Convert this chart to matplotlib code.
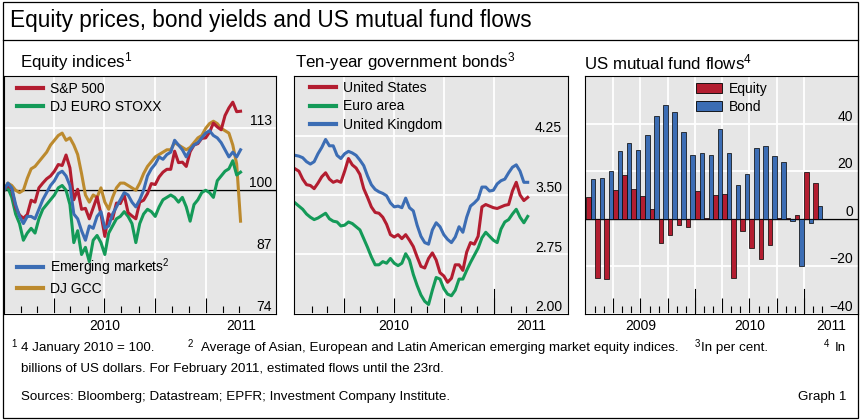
import numpy as np
import pandas as pd
import matplotlib
matplotlib.use('Agg')
import matplotlib.pyplot as plt
import matplotlib.dates as mdates
import matplotlib.transforms as mtransforms
from matplotlib.lines import Line2D
from matplotlib.patches import Patch, Rectangle
from matplotlib import font_manager

plt.rcParams['font.family'] = ['Liberation Sans', 'DejaVu Sans']
plt.rcParams['mathtext.fontset'] = 'custom'
plt.rcParams['mathtext.rm'] = 'Liberation Sans'
plt.rcParams['mathtext.it'] = 'Liberation Sans:italic'
plt.rcParams['mathtext.bf'] = 'Liberation Sans:bold'

have = {f.name for f in font_manager.fontManager.ttflist}
narrow = 'Liberation Sans Narrow' if 'Liberation Sans Narrow' in have else 'Liberation Sans'

# equity indices, weekly, 4 January 2010 = 100
eq_dates = pd.date_range('2010-01-01', periods=62, freq='7D')
sp500 = [100.0, 101.1, 100.3, 96.4, 94.8, 94.1, 94.9, 97.9, 97.5, 100.5,
         101.5, 102.4, 103.0, 104.0, 105.4, 105.2, 107.4, 104.7, 98.0, 100.2,
         96.0, 96.2, 94.0, 96.3, 98.6, 95.0, 90.3, 95.1, 94.0, 97.3,
         97.2, 99.0, 95.3, 94.6, 94.0, 97.5, 97.9, 99.3, 101.4, 101.2,
         102.8, 103.8, 104.4, 104.4, 108.2, 105.8, 105.9, 105.0, 108.1, 109.5,
         109.8, 110.9, 111.0, 112.2, 114.1, 113.3, 112.7, 115.7, 117.3, 118.5,
         116.5, 116.6]
euro_stoxx = [100.0, 100.5, 98.5, 95.0, 93.0, 89.5, 91.0, 92.0, 91.0, 94.0,
              96.0, 97.0, 98.0, 99.0, 100.5, 101.0, 100.0, 97.0, 89.0, 91.5,
              86.5, 88.0, 85.0, 89.5, 90.5, 89.0, 86.5, 91.0, 92.5, 94.0,
              94.5, 95.5, 94.5, 93.0, 89.0, 93.0, 95.0, 96.0, 95.5, 94.5,
              96.5, 98.0, 98.5, 99.0, 98.5, 97.5, 98.5, 96.5, 93.5, 97.0,
              98.0, 99.5, 100.0, 99.5, 98.5, 102.0, 103.0, 104.0, 104.5, 106.2,
              103.2, 103.8]
emerging = [100.0, 101.5, 100.5, 97.0, 94.5, 93.0, 94.5, 94.5, 94.0, 96.0,
            98.0, 99.5, 101.0, 102.0, 103.5, 104.0, 103.0, 101.0, 95.0, 94.0,
            91.5, 89.5, 92.5, 92.0, 94.5, 95.5, 92.0, 92.5, 95.0, 96.5,
            98.0, 99.5, 99.0, 97.5, 96.5, 98.0, 100.0, 103.0, 104.5, 105.5,
            107.0, 106.5, 107.5, 108.0, 110.5, 109.5, 108.5, 107.0, 108.5, 109.5,
            110.0, 111.0, 112.0, 112.5, 111.5, 111.0, 110.0, 108.5, 107.0, 108.0,
            107.0, 108.5]
dj_gcc = [100.0, 101.5, 101.0, 100.0, 99.5, 100.0, 102.5, 104.5, 105.0, 106.0,
          107.0, 108.0, 109.5, 110.5, 111.5, 112.0, 110.5, 111.0, 109.5, 107.5,
          103.5, 99.0, 97.5, 99.0, 98.5, 100.5, 97.5, 96.0, 98.5, 100.5,
          101.5, 101.5, 101.0, 100.5, 100.0, 101.5, 103.5, 105.0, 106.0, 107.0,
          107.5, 108.0, 108.5, 108.5, 110.0, 109.5, 109.0, 108.5, 109.0, 110.0,
          111.0, 111.5, 113.0, 114.0, 114.5, 114.0, 113.0, 112.5, 112.0, 109.5,
          105.5, 93.5]

# ten-year government bond yields, per cent
bond_dates = eq_dates
us_10y = [3.83, 3.80, 3.70, 3.63, 3.62, 3.58, 3.65, 3.73, 3.78, 3.70,
          3.66, 3.68, 3.66, 3.80, 3.96, 3.88, 3.84, 3.76, 3.58, 3.47,
          3.35, 3.28, 3.27, 3.22, 3.13, 3.00, 2.97, 3.00, 2.95, 3.00,
          2.93, 2.85, 2.72, 2.60, 2.58, 2.70, 2.77, 2.68, 2.52, 2.48,
          2.40, 2.45, 2.62, 2.62, 2.55, 2.78, 2.90, 2.88, 2.98, 3.35,
          3.38, 3.36, 3.34, 3.33, 3.35, 3.37, 3.38, 3.55, 3.66, 3.50,
          3.43, 3.47]
euro_10y = [3.40, 3.36, 3.32, 3.26, 3.22, 3.19, 3.21, 3.24, 3.27, 3.20,
            3.17, 3.16, 3.11, 3.12, 3.16, 3.14, 3.10, 3.06, 2.95, 2.84,
            2.72, 2.62, 2.62, 2.66, 2.64, 2.70, 2.64, 2.61, 2.64, 2.76,
            2.68, 2.50, 2.36, 2.24, 2.16, 2.12, 2.30, 2.46, 2.44, 2.32,
            2.25, 2.23, 2.30, 2.44, 2.44, 2.55, 2.65, 2.74, 2.83, 2.96,
            3.03, 2.98, 2.93, 2.90, 3.07, 3.16, 3.19, 3.26, 3.32, 3.22,
            3.15, 3.23]
uk_10y = [4.00, 3.99, 3.97, 3.92, 3.89, 3.92, 4.02, 4.10, 4.20, 4.12,
          4.12, 4.00, 3.96, 4.02, 4.05, 4.03, 4.00, 3.94, 3.87, 3.74,
          3.63, 3.57, 3.54, 3.52, 3.49, 3.40, 3.35, 3.36, 3.34, 3.46,
          3.34, 3.30, 3.12, 2.98, 2.90, 2.88, 3.06, 3.15, 3.10, 3.00,
          2.94, 2.90, 2.97, 3.10, 3.03, 3.22, 3.36, 3.40, 3.45, 3.60,
          3.60, 3.55, 3.56, 3.64, 3.68, 3.70, 3.78, 3.85, 3.88, 3.80,
          3.66, 3.66]

# US mutual fund flows, USD bn, monthly Jan 2009 - Feb 2011
flow_months = pd.date_range('2009-01-01', periods=26, freq='MS')
equity_flows = [9.1, -24.8, -25.2, 12.2, 18.5, 12.6, 9.7, 4.2, -10.1, -6.9,
                -2.5, -3.5, 11.7, 0.3, 10.2, 10.5, -24.8, -5.0, -12.2, -16.8,
                -10.9, 0.2, 0.4, 1.5, 19.6, 15.1]
bond_flows = [16.8, 17.2, 20.0, 28.5, 31.9, 29.0, 35.2, 43.2, 47.8, 44.9,
              36.4, 26.6, 27.7, 27.0, 37.8, 27.7, 14.0, 18.9, 29.8, 30.6,
              26.2, 23.9, -1.0, -19.9, -1.7, 5.5]

red = '#b31d30'
green = '#149a58'
blue = '#3c6db4'
gold = '#bc8a2e'
bg = '#e6e6e6'

W, H = 862, 420
fig = plt.figure(figsize=(W / 100, H / 100), dpi=100)


def px_axes(x0, y0, x1, y1):
    return fig.add_axes([x0 / W, 1 - y1 / H, (x1 - x0) / W, (y1 - y0) / H])


def ftext(x, y, s, **kw):
    fig.text(x / W, 1 - y / H, s, **kw)


ax1 = px_axes(4, 76, 276, 314)
ax2 = px_axes(294, 76, 568, 314)
ax3 = px_axes(585, 76, 858, 314)

for ax in (ax1, ax2, ax3):
    ax.set_facecolor(bg)
    ax.set_axisbelow(True)
    for s in ax.spines.values():
        s.set_linewidth(0.8)
        s.set_color('black')
    ax.tick_params(axis='y', length=0, labelleft=False)
    ax.tick_params(axis='x', which='both', direction='in', color='black',
                   width=0.8, labelbottom=False, top=False)
    ax.tick_params(axis='x', which='major', length=11.2)
    ax.tick_params(axis='x', which='minor', length=5.8)
    ax.grid(True, which='major', color='white', lw=1.3)

t0 = pd.Timestamp('2010-01-01')
month_ticks = pd.date_range('2010-02-01', '2011-03-01', freq='MS')
quarter_ticks = [d for d in month_ticks if d.month in (1, 4, 7, 10)]
jan11 = pd.Timestamp('2011-01-01')

# equity indices
ax1.set_xlim(t0, t0 + pd.Timedelta(days=491))
ax1.set_ylim(74, 124)
ax1.set_yticks([74, 87, 100, 113])
ax1.set_xticks(quarter_ticks)
ax1.set_xticks(month_ticks, minor=True)
ax1.axhline(100, color='black', lw=1.0, zorder=1.5)
ax1.plot(eq_dates, dj_gcc, color=gold, lw=2.2)
ax1.plot(eq_dates, euro_stoxx, color=green, lw=2.2)
ax1.plot(eq_dates, sp500, color=red, lw=2.2)
ax1.plot(eq_dates, emerging, color=blue, lw=2.2)

# bond yields
ax2.set_xlim(t0 - pd.Timedelta(days=2), t0 + pd.Timedelta(days=501))
ax2.set_ylim(2.0, 5.0)
ax2.set_yticks([2.0, 2.75, 3.5, 4.25])
ax2.set_xticks(quarter_ticks)
ax2.set_xticks(month_ticks, minor=True)
ax2.axvline(jan11, ymin=0, ymax=25 / 238, color='black', lw=0.8)
ax2.plot(bond_dates, euro_10y, color=green, lw=2.2)
ax2.plot(bond_dates, uk_10y, color=blue, lw=2.2)
ax2.plot(bond_dates, us_10y, color=red, lw=2.2)

# fund flows
pos = np.arange(len(flow_months))
ax3.set_xlim(-0.11, 29.95)
ax3.set_ylim(-40, 60)
ax3.set_yticks([-40, -20, 0, 20, 40])
ax3.set_xticks(np.arange(3, 25, 3))
ax3.set_xticks(np.arange(1, 27), minor=True)
for yr in (12, 24):
    ax3.axvline(yr, ymin=0, ymax=25 / 238, color='black', lw=0.8)
ax3.axhline(0, color='black', lw=1.0, zorder=1.5)
ax3.bar(pos, equity_flows, width=0.5, align='edge', color=red,
        edgecolor='black', lw=0.5, zorder=2)
ax3.bar(pos + 0.5, bond_flows, width=0.5, align='edge', color=blue,
        edgecolor='black', lw=0.5, zorder=2)


# value labels sit inside the plot, just above each gridline
def ylabels(ax, vals, labels, xr):
    tr = mtransforms.blended_transform_factory(ax.transAxes, ax.transData)
    for v, s in zip(vals, labels):
        ax.text(xr, v, s, transform=tr, ha='right', va='bottom', fontsize=10)


ylabels(ax1, [74, 87, 100, 113], ['74', '87', '100', '113'], 0.985)
ylabels(ax2, [2.0, 2.75, 3.5, 4.25], ['2.00', '2.75', '3.50', '4.25'], 0.978)
ylabels(ax3, [-40, -20, 0, 20, 40], ['\u221240', '\u221220', '0', '20', '40'], 0.982)


def year_labels(ax, xs, labels):
    tr = mtransforms.blended_transform_factory(ax.transData, ax.transAxes)
    for x, s in zip(xs, labels):
        ax.text(x, -12 / 238, s, transform=tr, ha='center', va='center', fontsize=10)


x1r = ax1.get_xlim()[1]
x2r = ax2.get_xlim()[1]
year_labels(ax1, [mdates.date2num(t0) + 181,
                  (mdates.date2num(jan11) + x1r) / 2], ['2010', '2011'])
year_labels(ax2, [mdates.date2num(t0) + 181,
                  (mdates.date2num(jan11) + x2r) / 2], ['2010', '2011'])
year_labels(ax3, [6, 18, (24 + 29.95) / 2], ['2009', '2010', '2011'])

# legends
lk = dict(frameon=False, borderpad=0, borderaxespad=0, fontsize=10,
          handletextpad=0.5, labelspacing=0.3)
l1 = ax1.legend([Line2D([], [], color=red, lw=3), Line2D([], [], color=green, lw=3)],
                ['S&P 500', 'DJ EURO STOXX'], loc='upper left',
                bbox_to_anchor=(0.047, 0.975), handlelength=1.92, **lk)
ax1.add_artist(l1)
ax1.legend([Line2D([], [], color=blue, lw=3), Line2D([], [], color=gold, lw=3)],
           ['Emerging markets$^{2}$', 'DJ GCC'], loc='lower left',
           bbox_to_anchor=(0.047, 0.077), handlelength=1.92, **lk)
ax2.legend([Line2D([], [], color=red, lw=3), Line2D([], [], color=green, lw=3),
            Line2D([], [], color=blue, lw=3)],
           ['United States', 'Euro area', 'United Kingdom'], loc='upper left',
           bbox_to_anchor=(0.057, 0.978), handlelength=1.92, **lk)
ax3.legend([Patch(facecolor=red, edgecolor='black', lw=0.6),
            Patch(facecolor=blue, edgecolor='black', lw=0.6)],
           ['Equity', 'Bond'], loc='upper left', bbox_to_anchor=(0.407, 0.975),
           handlelength=1.85, handleheight=0.72, **lk)

# titles
ftext(10, 21, 'Equity prices, bond yields and US mutual fund flows',
      fontsize=16.3, va='center')
ftext(20, 62, 'Equity indices$^{1}$', fontsize=12.2, va='center')
ftext(295, 62, 'Ten-year government bonds$^{3}$', fontsize=12.2, va='center')
ftext(584, 62, 'US mutual fund flows$^{4}$', fontsize=12.2, va='center')

# footnotes
fs = 11.0 if narrow != 'Liberation Sans' else 9.6


def note(xs, xt, y, num, txt):
    ftext(xs, y - 4, num, fontsize=7, family=narrow, va='center')
    ftext(xt, y, txt, fontsize=fs, family=narrow, va='center')


note(11, 21, 348, '1', '4 January 2010 = 100.')
note(188, 201, 348, '2',
     'Average of Asian, European and Latin American emerging market equity indices.')
note(695, 701, 348, '3', 'In per cent.')
note(824, 835, 348, '4', 'In')
ftext(21, 369, 'billions of US dollars. For February 2011, estimated flows until the 23rd.',
      fontsize=fs, family=narrow, va='center')
ftext(21, 397, 'Sources: Bloomberg; Datastream; EPFR; Investment Company Institute.',
      fontsize=fs, family=narrow, va='center')
ftext(846, 397, 'Graph 1', fontsize=fs, family=narrow, va='center', ha='right')

# frame and title rule
fig.patches.append(Rectangle((3 / W, 1 - 418 / H), 855.5 / W, 416 / H,
                             transform=fig.transFigure, fill=False,
                             edgecolor='black', lw=0.9))
fig.lines.append(Line2D([3 / W, 858.5 / W], [1 - 40 / H, 1 - 40 / H],
                        transform=fig.transFigure, color='black', lw=0.9))

fig.savefig('out.png', dpi=100)
